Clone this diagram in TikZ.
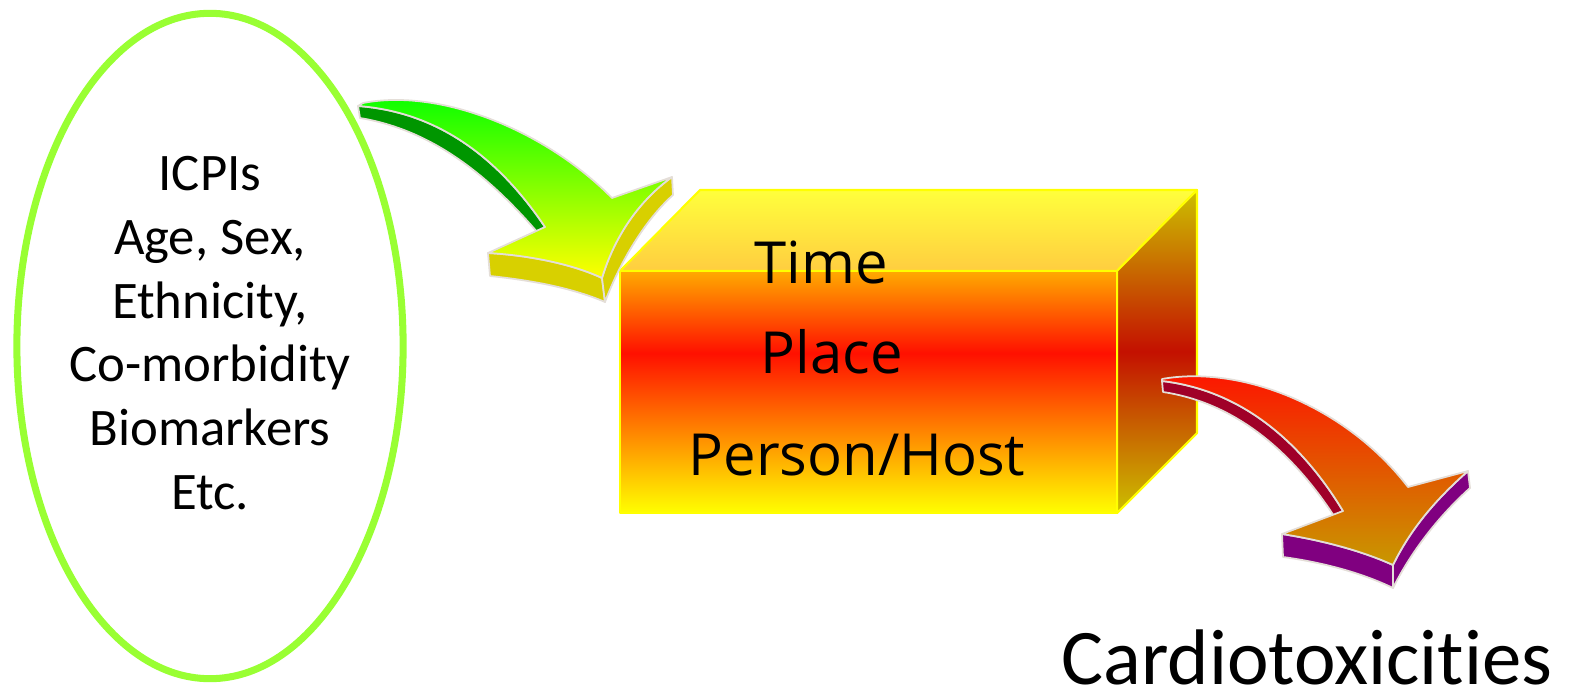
\documentclass[tikz,border=0pt]{standalone}
\usepackage{fontspec}
\setmainfont{Carlito}[Ligatures=NoCommon]
\newfontfamily\boxfont{Open Sans}
\usetikzlibrary{shapes.geometric}
\definecolor{ellgreen}{RGB}{153,255,51}
\definecolor{boxyellow}{RGB}{255,255,0}
\definecolor{boxred}{RGB}{255,16,0}
\definecolor{boxorange}{RGB}{255,170,0}
\definecolor{boxline}{RGB}{255,255,0}
\definecolor{toplight}{RGB}{255,255,60}
\definecolor{topdark}{RGB}{255,205,64}
\definecolor{sideolive}{RGB}{204,192,0}
\definecolor{sidered}{RGB}{196,16,0}
\definecolor{arrowgrey}{RGB}{228,222,216}
\definecolor{agreen}{RGB}{0,255,0}
\definecolor{ayellow}{RGB}{255,255,0}
\definecolor{adkgreen}{RGB}{0,150,0}
\definecolor{abarb}{RGB}{216,208,0}
\definecolor{ared}{RGB}{255,16,0}
\definecolor{agold}{RGB}{200,152,0}
\definecolor{adkred}{RGB}{160,0,40}
\definecolor{apurple}{RGB}{128,0,128}
\pgfdeclareverticalshading{frontshade}{100bp}{color(0bp)=(boxyellow); color(25bp)=(boxyellow); color(58bp)=(boxred); color(75bp)=(boxorange); color(100bp)=(boxorange)}
\begin{document}
\begin{tikzpicture}[x=0.01cm,y=-0.01cm,
  arrowedge/.style={draw=arrowgrey, line width=0.5pt, line join=round},
  boxedge/.style={draw=boxline, line width=0.6pt, line join=round},
  boxtxt/.style={font=\boxfont\fontsize{16.5}{20}\selectfont, anchor=base, inner sep=0pt}]
\useasboundingbox (0,0) rectangle (1569,697);

% left ellipse with factors
\node[ellipse, draw=ellgreen, line width=2pt, minimum width=3.86cm, minimum height=6.65cm,
      inner sep=0pt] (ring) at (210,346) {};
\node[align=center, inner sep=0pt, font=\fontsize{15}{18.1}\selectfont] (factors) at (210,333)
  {ICPIs\\Age, Sex,\\Ethnicity,\\Co-morbidity\\Biomarkers\\Etc.};

% box corners
\coordinate (fTL) at (620,271);
\coordinate (fTR) at (1117,271);
\coordinate (fBR) at (1117,513);
\coordinate (fBL) at (620,513);
\coordinate (bTL) at (700,190);
\coordinate (bTR) at (1197,190);
\coordinate (bBR) at (1197,433);

% box faces
\shade[boxedge, top color=toplight, bottom color=topdark] (fTL) -- (bTL) -- (bTR) -- (fTR) -- cycle;
\shade[boxedge, top color=sideolive, bottom color=sideolive, middle color=sidered] (fTR) -- (bTR) -- (bBR) -- (fBR) -- cycle;
\shade[boxedge, shading=frontshade] (fTL) -- (fTR) -- (fBR) -- (fBL) -- cycle;

\node[boxtxt] (time) at (821,283) {Time};
\node[boxtxt] (place) at (832,373) {Place};
\node[boxtxt] (person) at (857,475) {Person/Host};

% arrow 1 (green -> yellow)
\fill[adkgreen, arrowedge] (358,106) .. controls (440,112) and (500,160) .. (545,227) -- (538,233)
  .. controls (488,175) and (432,130) .. (360,118) -- cycle;
\fill[abarb, arrowedge] (488,253) .. controls (525,255) and (570,263) .. (602,278) -- (605,302)
  .. controls (570,287) and (528,280) .. (490,276) -- cycle;
\fill[abarb, arrowedge] (602,278) .. controls (615,235) and (640,200) .. (672,177) -- (673,195)
  .. controls (645,220) and (620,262) .. (605,302) -- cycle;
\shade[arrowedge, top color=agreen, bottom color=ayellow] (363,103) .. controls (440,88) and (545,130) .. (612,198)
  -- (672,177) .. controls (640,200) and (615,235) .. (602,278)
  .. controls (570,263) and (525,255) .. (488,253) -- (545,227)
  .. controls (500,160) and (440,112) .. (358,106) -- cycle;

% arrow 2 (red -> gold)
\fill[adkred, arrowedge] (1162,381) .. controls (1240,390) and (1300,440) .. (1343,511) -- (1334,516)
  .. controls (1292,452) and (1236,403) .. (1163,392) -- cycle;
\fill[apurple, arrowedge] (1282,534) .. controls (1320,540) and (1360,550) .. (1393,565) -- (1393,588)
  .. controls (1360,572) and (1320,562) .. (1283,557) -- cycle;
\fill[apurple, arrowedge] (1393,565) .. controls (1410,530) and (1435,500) .. (1468,471) -- (1470,488)
  .. controls (1440,515) and (1412,550) .. (1393,588) -- cycle;
\shade[arrowedge, top color=ared, bottom color=agold] (1162,379) .. controls (1240,365) and (1345,405) .. (1408,487)
  -- (1468,471) .. controls (1435,500) and (1410,530) .. (1393,565)
  .. controls (1360,550) and (1320,540) .. (1282,534) -- (1343,511)
  .. controls (1300,440) and (1240,390) .. (1162,381) -- cycle;

\node[anchor=base, inner sep=0pt, font=\fontsize{22.4}{26}\selectfont] (cardio) at (1307,684) {Cardiotoxicities};
\end{tikzpicture}
\end{document}
